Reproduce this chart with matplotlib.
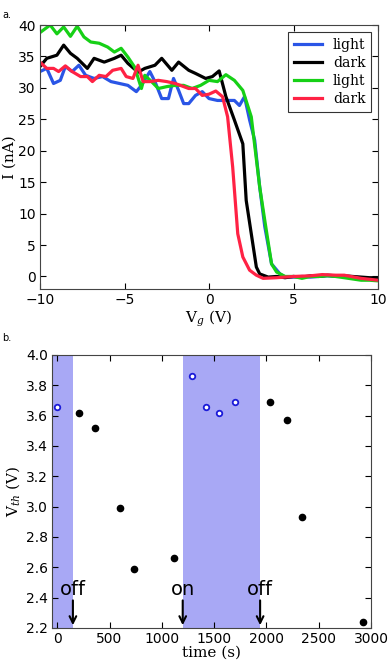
import numpy as np
import matplotlib
matplotlib.use('Agg')
import matplotlib.pyplot as plt

plt.rcParams['mathtext.fontset'] = 'dejavuserif'

# ---- panel a: transfer curves I vs Vg
vg_blue = [-10, -9.6, -9.2, -8.8, -8.5, -8.1, -7.7, -7.3, -6.8, -6.3, -5.8, -5.3, -4.8, -4.3, -4.0,
           -3.5, -3.2, -2.8, -2.4, -2.1, -1.8, -1.5, -1.2, -0.8, -0.4, 0, 0.5, 1.0, 1.5, 1.8, 2.1,
           2.4, 2.7, 3.0, 3.3, 3.7, 4.2, 4.5, 5, 5.5, 6, 6.5, 7, 7.5, 8, 8.5, 9, 9.5, 10]
i_blue = [32.6, 33.1, 30.7, 31.2, 33.4, 32.6, 33.6, 32.0, 31.5, 31.8, 31.0, 30.7, 30.4, 29.4, 30.4,
          32.6, 31.0, 28.3, 28.3, 31.5, 29.6, 27.5, 27.5, 28.8, 29.4, 28.3, 28.0, 28.0, 28.0, 27.2, 28.6,
          24.9, 21.7, 14.2, 7.9, 2.0, 0.4, -0.1, -0.1, 0.0, -0.1, 0.0, 0.1, 0.0, 0.0, -0.2, -0.3, -0.4, -0.5]

vg_black = [-10, -9.6, -9.0, -8.6, -8.2, -7.8, -7.2, -6.8, -6.2, -5.6, -5.2, -4.8, -4.2, -3.8, -3.2,
            -2.8, -2.2, -1.8, -1.2, -0.8, -0.2, 0.2, 0.6, 1.0, 1.5, 2.0, 2.2, 2.5, 2.8, 3.0, 3.5,
            4, 4.5, 5, 5.5, 6, 6.5, 7, 7.5, 8, 8.5, 9, 9.5, 10]
i_black = [33.4, 34.7, 35.2, 36.8, 35.5, 34.7, 33.1, 34.7, 34.1, 34.7, 35.2, 33.9, 32.5, 33.1, 33.6,
           34.7, 32.8, 34.1, 32.8, 32.3, 31.5, 31.8, 32.7, 28.6, 24.9, 21.1, 12.1, 6.8, 1.5, 0.4, -0.1,
           0.0, -0.2, 0.0, -0.1, 0.1, 0.0, 0.2, 0.1, 0.1, 0.0, -0.1, -0.2, -0.2]

vg_green = [-10, -9.4, -9.0, -8.6, -8.2, -7.8, -7.4, -7.0, -6.5, -6.0, -5.6, -5.2, -4.8, -4.4, -4.0,
            -3.8, -3.4, -3.0, -2.5, -2.0, -1.5, -1.0, -0.5, 0, 0.5, 1.0, 1.5, 2.0, 2.5, 3.0, 3.3,
            3.7, 4.0, 4.5, 5, 5.5, 6, 6.5, 7, 7.5, 8, 8.5, 9, 9.5, 10]
i_green = [38.8, 40.0, 38.6, 39.7, 38.2, 39.8, 38.1, 37.3, 37.1, 36.5, 35.7, 36.3, 34.9, 33.3, 29.9,
           32.0, 31.0, 29.9, 30.2, 30.4, 30.4, 29.9, 30.4, 31.2, 31.0, 32.1, 31.2, 29.6, 25.4, 14.2, 8.9,
           2.0, 0.7, 0.0, 0.0, -0.3, 0.0, 0.0, 0.1, 0.0, -0.2, -0.4, -0.6, -0.6, -0.7]

vg_red = [-10, -9.6, -9.2, -8.9, -8.5, -8.1, -7.6, -7.2, -6.9, -6.5, -6.1, -5.7, -5.2, -4.9, -4.5,
          -4.2, -3.9, -3.5, -3.0, -2.5, -2.0, -1.5, -1.2, -0.8, -0.4, 0, 0.4, 0.8, 1.1, 1.4, 1.7,
          2.0, 2.4, 2.8, 3.2, 4, 5, 6, 6.7, 7.5, 8, 9, 10]
i_red = [34.1, 33.1, 33.1, 32.6, 33.5, 32.6, 31.8, 31.8, 31.0, 32.0, 31.8, 32.8, 33.1, 31.8, 31.5,
         33.6, 31.0, 31.0, 31.2, 31.0, 30.7, 30.2, 29.9, 29.9, 28.8, 29.0, 29.5, 28.6, 25.4, 17.4, 6.8,
         3.1, 1.0, 0.2, -0.3, -0.2, 0.0, 0.1, 0.3, 0.2, 0.2, -0.3, -0.6]

# ---- panel b: threshold voltage vs time
t_light = [0, 1290, 1420, 1550, 1700]
vth_light = [3.66, 3.86, 3.66, 3.62, 3.69]
t_dark = [213, 360, 605, 736, 1121, 2039, 2198, 2338, 2925]
vth_dark = [3.62, 3.52, 2.99, 2.59, 2.66, 3.69, 3.57, 2.93, 2.24]
light_spans = [(-50, 150), (1200, 1940)]
arrow_t = [150, 1200, 1940]
arrow_txt = ['off', 'on', 'off']

fig = plt.figure(figsize=(3.9, 6.62), dpi=100)

ax1 = fig.add_axes([0.1026, 0.5634, 0.8667, 0.3988])
ax1.plot(vg_blue, i_blue, color='#2a55e6', lw=2.3, label='light')
ax1.plot(vg_black, i_black, color='black', lw=2.3, label='dark')
ax1.plot(vg_green, i_green, color='#16d016', lw=2.3, label='light')
ax1.plot(vg_red, i_red, color='#ff2244', lw=2.3, label='dark')
ax1.set_xlim(-10, 10)
ax1.set_ylim(-2, 40)
ax1.set_xticks([-10, -5, 0, 5, 10])
ax1.set_xticklabels(['\u221210', '\u22125', '0', '5', '10'])
ax1.set_yticks(range(0, 41, 5))
ax1.set_xlabel('V$_g$ (V)', family='serif', fontsize=11, labelpad=1)
ax1.set_ylabel('I (nA)', family='serif', fontsize=11, labelpad=1)
leg = ax1.legend(loc='upper right', prop={'family': 'serif', 'size': 10}, fancybox=False,
                 edgecolor='black', handlelength=2.0, borderaxespad=0.5, labelspacing=0.3)
leg.get_frame().set_linewidth(0.8)

ax2 = fig.add_axes([0.1333, 0.0514, 0.8179, 0.4124])
for a, b in light_spans:
    ax2.axvspan(a, b, color=(0.66, 0.66, 0.96), lw=0, zorder=0)
ax2.plot(t_light, vth_light, 'o', ms=4, mfc='white', mec='#1a1ad8', mew=1.3)
ax2.plot(t_dark, vth_dark, 'o', ms=4.5, color='black')
for t, s in zip(arrow_t, arrow_txt):
    ax2.annotate('', xy=(t, 2.2), xytext=(t, 2.40),
                 arrowprops=dict(arrowstyle='->', lw=1.5, color='black', mutation_scale=12))
    ax2.text(t, 2.42, s, ha='center', va='baseline', fontsize=14)
ax2.set_xlim(-50, 3000)
ax2.set_ylim(2.2, 4.0)
ax2.set_xticks(range(0, 3001, 500))
ax2.set_yticks(np.arange(2.2, 4.01, 0.2))
ax2.set_yticklabels(['%.1f' % v for v in np.arange(2.2, 4.01, 0.2)])
ax2.set_xlabel('time (s)', family='serif', fontsize=11, labelpad=0)
ax2.set_ylabel('V$_{th}$ (V)', family='serif', fontsize=11, labelpad=3)

for ax in (ax1, ax2):
    ax.tick_params(direction='in', top=True, right=True, length=4, width=0.8, labelsize=10, pad=3)
    for sp in ax.spines.values():
        sp.set_linewidth(0.8)
        sp.set_color('#444444')

fig.text(0.005, 0.985, 'a.', fontsize=7, va='top')
fig.text(0.005, 0.497, 'b.', fontsize=7, va='top')

fig.savefig('out.png', dpi=100)
